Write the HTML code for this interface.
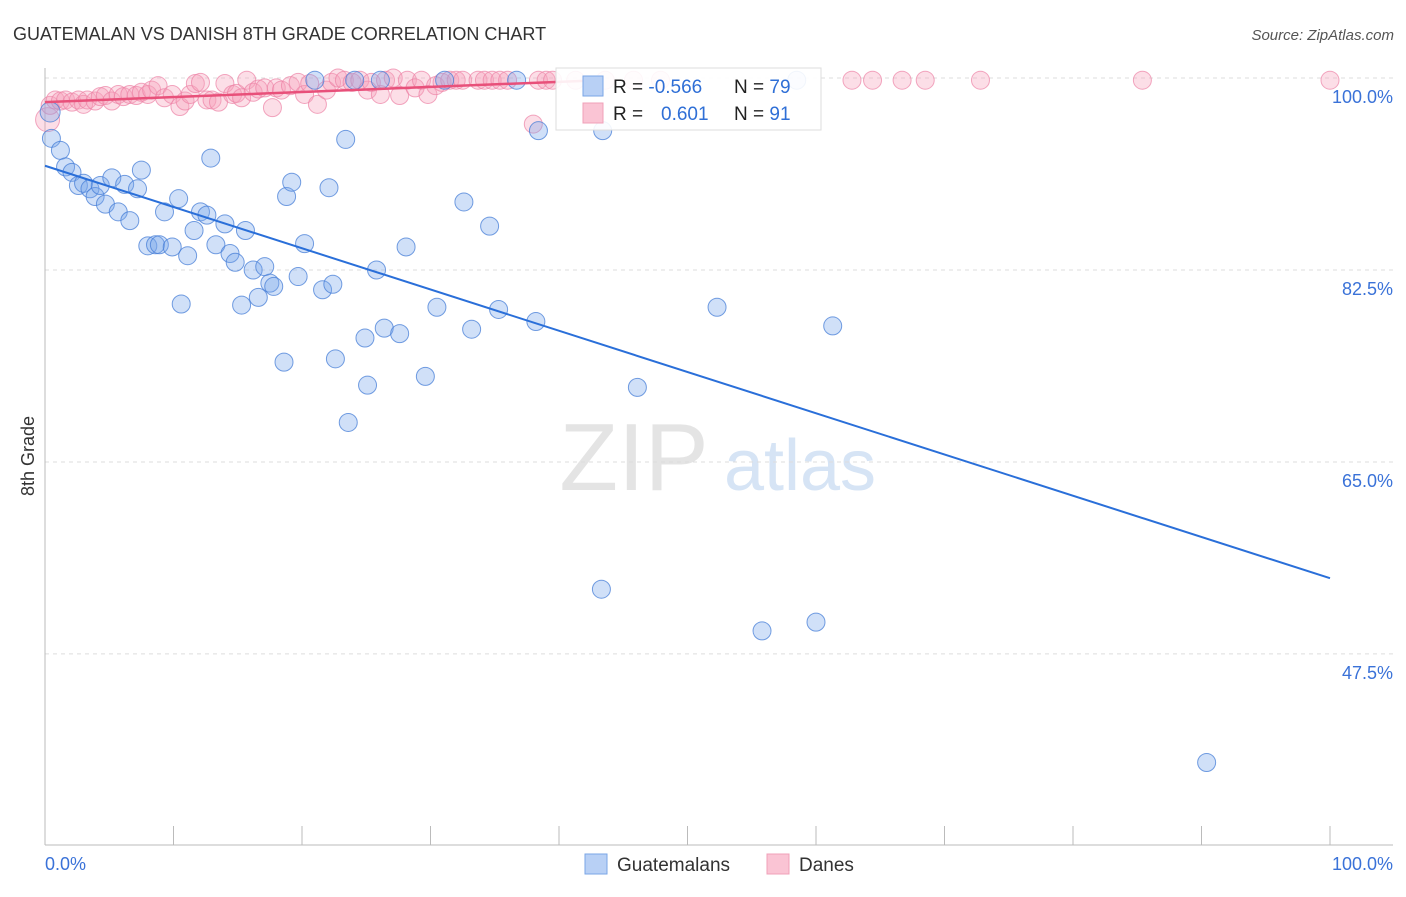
<!DOCTYPE html>
<html><head><meta charset="utf-8"><style>
body{margin:0;background:#fff;font-family:"Liberation Sans",sans-serif;}
svg text{font-family:"Liberation Sans",sans-serif;}
</style></head><body>
<svg id="chart" width="1406" height="892" xmlns="http://www.w3.org/2000/svg">
<text x="13" y="40" font-size="18" fill="#333">GUATEMALAN VS DANISH 8TH GRADE CORRELATION CHART</text>
<text x="1394" y="40" font-size="15" fill="#555" font-style="italic" text-anchor="end">Source: ZipAtlas.com</text>
<text x="634" y="490" font-size="96" fill="#e4e4e4" font-family="Liberation Serif" text-anchor="middle">ZIP</text>
<text x="800" y="490" font-size="72" fill="#d6e4f5" text-anchor="middle">atlas</text>
<text transform="translate(34,456) rotate(-90)" font-size="18" fill="#333" text-anchor="middle">8th Grade</text>
<g id="grid"></g><g id="axes"></g><g id="pts"></g><g id="lines"></g>
<g>
<rect x="556" y="68" width="265" height="62" fill="#fff" fill-opacity="0.9" stroke="#ddd"/>
<rect x="583" y="76" width="20" height="20" fill="#b8d0f5" stroke="#7aa6e6"/>
<rect x="583" y="103" width="20" height="20" fill="#fac4d4" stroke="#f0a0b8"/>
<text x="613" y="93" font-size="19" fill="#222">R = <tspan fill="#2f6fd6">-0.566</tspan></text>
<text x="734" y="93" font-size="19" fill="#222">N = <tspan fill="#2f6fd6">79</tspan></text>
<text x="613" y="120" font-size="19" fill="#222">R = <tspan fill="#2f6fd6" x="661">0.601</tspan></text>
<text x="734" y="120" font-size="19" fill="#222">N = <tspan fill="#2f6fd6">91</tspan></text>
</g>
<g>
<rect x="585" y="854" width="22" height="20" fill="#b8d0f5" stroke="#7aa6e6"/>
<text x="617" y="871" font-size="19" fill="#333">Guatemalans</text>
<rect x="767" y="854" width="22" height="20" fill="#fac4d4" stroke="#f0a0b8"/>
<text x="799" y="871" font-size="19" fill="#333">Danes</text>
</g>
</svg>
<script>
const blueX=[0.4,0.5,1.2,1.6,2.1,2.6,3.0,3.5,3.9,4.3,4.7,5.2,5.7,6.2,6.6,7.2,7.5,8.0,8.6,8.9,9.3,9.9,10.4,10.6,11.1,11.6,12.1,12.6,12.9,13.3,14.0,14.4,14.8,15.3,15.6,16.2,16.6,17.1,17.5,17.8,18.6,18.8,19.2,19.7,20.2,21.0,21.6,22.1,22.4,22.6,23.4,23.6,24.1,24.9,25.1,25.8,26.1,26.4,27.6,28.1,29.6,30.5,31.1,32.6,33.2,34.6,35.3,36.7,38.2,38.4,43.3,43.4,46.1,52.3,55.8,58.5,60.0,61.3,90.4];
const blueY=[96.9,94.5,93.4,91.9,91.4,90.2,90.4,89.9,89.2,90.2,88.5,90.9,87.8,90.3,87.0,89.9,91.6,84.7,84.8,84.8,87.8,84.6,89.0,79.4,83.8,86.1,87.8,87.5,92.7,84.8,86.7,84.0,83.2,79.3,86.1,82.5,80.0,82.8,81.3,81.0,74.1,89.2,90.5,81.9,84.9,99.8,80.7,90.0,81.2,74.4,94.4,68.6,99.8,76.3,72.0,82.5,99.8,77.2,76.7,84.6,72.8,79.1,99.8,88.7,77.1,86.5,78.9,99.8,77.8,95.2,53.4,95.2,71.8,79.1,49.6,99.8,50.4,77.4,37.6];
const pinkX=[0.2,0.4,0.8,1.2,1.6,2.1,2.6,3.0,3.3,3.9,4.3,4.7,5.2,5.7,6.1,6.6,7.1,7.5,8.0,8.3,8.8,9.3,9.9,10.5,10.9,11.3,11.7,12.1,12.6,13.0,13.5,14.0,14.6,14.9,15.3,15.7,16.2,16.6,17.1,17.7,18.0,18.4,19.1,19.7,20.2,20.6,21.2,21.9,22.3,22.8,23.3,23.9,24.5,25.1,25.4,26.1,26.5,27.1,27.6,28.2,28.8,29.3,29.8,30.4,30.9,31.5,32.0,32.5,33.7,34.2,34.8,35.4,36.0,38.0,38.4,39.0,39.5,41.3,43.6,45.8,47.9,62.8,64.4,66.7,68.5,72.8,85.4,100];
const pinkY=[96.2,97.5,98.0,97.9,98.0,97.8,98.0,97.6,98.0,97.9,98.3,98.4,97.9,98.5,98.3,98.5,98.4,98.7,98.5,98.9,99.3,98.2,98.5,97.4,97.9,98.5,99.5,99.6,98.0,98.0,97.8,99.5,98.5,98.6,98.2,99.8,98.7,99.0,99.1,97.3,99.1,98.9,99.3,99.6,98.5,99.5,97.6,98.9,99.6,100,99.8,99.6,99.8,98.9,99.6,98.5,99.8,100,98.4,99.8,99.1,99.8,98.5,99.3,99.6,99.8,99.8,99.8,99.8,99.8,99.8,99.8,99.8,95.8,99.8,99.8,99.8,99.8,99.8,99.8,99.8,99.8,99.8,99.8,99.8,99.8,99.8,99.8];
const blueTrend=[[0,92.0],[100,54.4]];
const pinkTrend=[[0,97.8],[43.2,99.8]];
const yTicks=[100,82.5,65,47.5];
const yTickLabels=["100.0%","82.5%","65.0%","47.5%"];
const xTicks=[0,10,20,30,40,50,60,70,80,90,100];
const NS="http://www.w3.org/2000/svg";
const X0=45,X1=1330,Y100=78,PXPCT=10.97;
function sx(v){return X0+(X1-X0)*v/100;}
function sy(v){return Y100+(100-v)*PXPCT;}
function mk(tag,attrs,parent){const e=document.createElementNS(NS,tag);for(const k in attrs)e.setAttribute(k,attrs[k]);document.getElementById(parent).appendChild(e);return e;}
yTicks.forEach((t,i)=>{
 const g=mk('line',{x1:X0,x2:1393,y1:sy(t),y2:sy(t),stroke:'#ddd','stroke-dasharray':'4,4'},'grid');
 
 
 const l=mk('text',{x:1393,y:sy(t)+25,'font-size':18,fill:'#3a72d8','text-anchor':'end'},'grid');
 l.textContent=yTickLabels[i];
 
 
});
const ax=mk('line',{x1:X0,x2:X0,y1:68,y2:845,stroke:'#bbb'},'axes');


const bx=mk('line',{x1:X0,x2:1393,y1:845,y2:845,stroke:'#bbb'},'axes');


xTicks.forEach(t=>{
 const k=mk('line',{x1:sx(t),x2:sx(t),y1:826,y2:845,stroke:'#bbb'},'axes');
 
 
});
const xl0=mk('text',{x:45,y:870,'font-size':18,fill:'#3a72d8'},'axes');xl0.textContent='0.0%';


const xl1=mk('text',{x:1393,y:870,'font-size':18,fill:'#3a72d8','text-anchor':'end'},'axes');xl1.textContent='100.0%';


pinkX.forEach((v,i)=>{
 const c=mk('circle',{cx:sx(v),cy:sy(pinkY[i]),r:i==0?12:9,fill:'rgba(245,160,185,0.35)',stroke:'rgba(236,130,165,0.7)','stroke-width':1},'pts');
 
 
});
blueX.forEach((v,i)=>{
 const c=mk('circle',{cx:sx(v),cy:sy(blueY[i]),r:i==0?10:9,fill:'rgba(120,165,235,0.35)',stroke:'rgba(70,125,215,0.75)','stroke-width':1},'pts');
 
 
});
const bl=mk('line',{x1:sx(blueTrend[0][0]),y1:sy(blueTrend[0][1]),x2:sx(blueTrend[1][0]),y2:sy(blueTrend[1][1]),stroke:'#2a6fd9','stroke-width':2},'lines');


const pl=mk('line',{x1:sx(pinkTrend[0][0]),y1:sy(pinkTrend[0][1]),x2:sx(pinkTrend[1][0]),y2:sy(pinkTrend[1][1]),stroke:'#e8507a','stroke-width':2.5},'lines');


</script>
</body></html>
